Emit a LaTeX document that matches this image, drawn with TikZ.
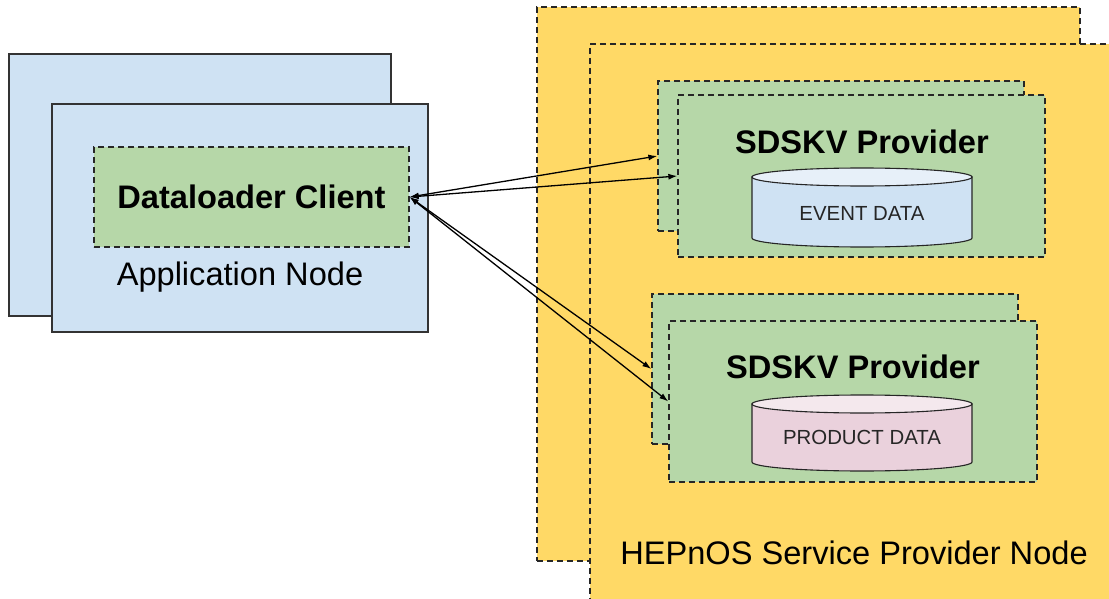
\documentclass[tikz,border=0pt]{standalone}
\usepackage{fontspec}
\setmainfont{Liberation Sans}
\usepackage{tikz}
\usetikzlibrary{
    arrows.meta
}
\definecolor{appblue}{HTML}{CFE2F3}
\definecolor{cligreen}{HTML}{B6D7A8}
\definecolor{hepyellow}{HTML}{FFD966}
\definecolor{dbpink}{HTML}{EAD1DC}
\tikzset{appbox/.style={inner sep=0pt, draw=black!80, line width=1.3pt, fill=appblue}}
\tikzset{dashbox/.style={inner sep=0pt, draw=black!85, line width=1.3pt, dash pattern=on 6pt off 4pt}}
\tikzset{dbline/.style={draw=black!85, line width=1.1pt}}
\tikzset{bigtxt/.style={font=\fontsize{32.6}{39}\selectfont}}
\tikzset{smalltxt/.style={font=\fontsize{20.4}{24}\selectfont, text=black!85}}
\tikzset{link/.style={{Latex[length=9pt, width=6pt]}-{Latex[length=9pt, width=6pt]}, line width=1.3pt}}

\begin{document}
\begin{tikzpicture}[x=1pt, y=-1pt]
    \useasboundingbox (0, 0) rectangle (1109, 599);
    \clip (0, 0) rectangle (1109, 599);

    % application side
    \node[appbox, minimum width=382, minimum height=262] (appback) at (200, 185) {};
    \node[appbox, minimum width=376, minimum height=228] (app) at (240, 218) {};
    \node[dashbox, fill=cligreen, minimum width=315, minimum height=100, bigtxt] (client) at (251.5, 197) {\bfseries Dataloader Client};
    \node[bigtxt] (applabel) at (240, 277) {Application Node};

    % service side
    \node[dashbox, fill=hepyellow, minimum width=543, minimum height=554] (hepback) at (808.5, 284) {};
    \node[dashbox, fill=hepyellow, minimum width=540, minimum height=576] (hep) at (860, 332) {};
    \node[bigtxt] (heplabel) at (854, 553) {HEPnOS Service Provider Node};

    \node[dashbox, fill=cligreen, minimum width=366, minimum height=150] (evback) at (841, 156) {};
    \node[dashbox, fill=cligreen, minimum width=367, minimum height=162] (ev) at (861.5, 176) {};
    \node[bigtxt] (evlabel) at (862, 142) {\bfseries SDSKV Provider};
    \draw[dbline, fill=appblue]
    (752, 177) -- (752, 238) arc[start angle=180, end angle=0, x radius=110, y radius=9] -- (972, 177) -- cycle;
    \draw[dbline, fill=appblue!50!white] (862, 177) ellipse[x radius=110, y radius=9];
    \node[smalltxt] (evtxt) at (862, 213) {EVENT DATA};

    \node[dashbox, fill=cligreen, minimum width=366, minimum height=150] (prback) at (835, 369) {};
    \node[dashbox, fill=cligreen, minimum width=368, minimum height=161] (pr) at (853, 401.5) {};
    \node[bigtxt] (prlabel) at (853, 367) {\bfseries SDSKV Provider};
    \draw[dbline, fill=dbpink]
    (752, 404) -- (752, 462) arc[start angle=180, end angle=0, x radius=110, y radius=9] -- (972, 404) -- cycle;
    \draw[dbline, fill=dbpink!50!white] (862, 404) ellipse[x radius=110, y radius=9];
    \node[smalltxt] (prtxt) at (862, 437) {PRODUCT DATA};

    % links
    \draw[link] (client.east) -- (evback.west);
    \draw[link] (client.east) -- (ev.west);
    \draw[link] (client.east) -- (prback.west);
    \draw[link] (client.east) -- (pr.west);
\end{tikzpicture}
\end{document}
